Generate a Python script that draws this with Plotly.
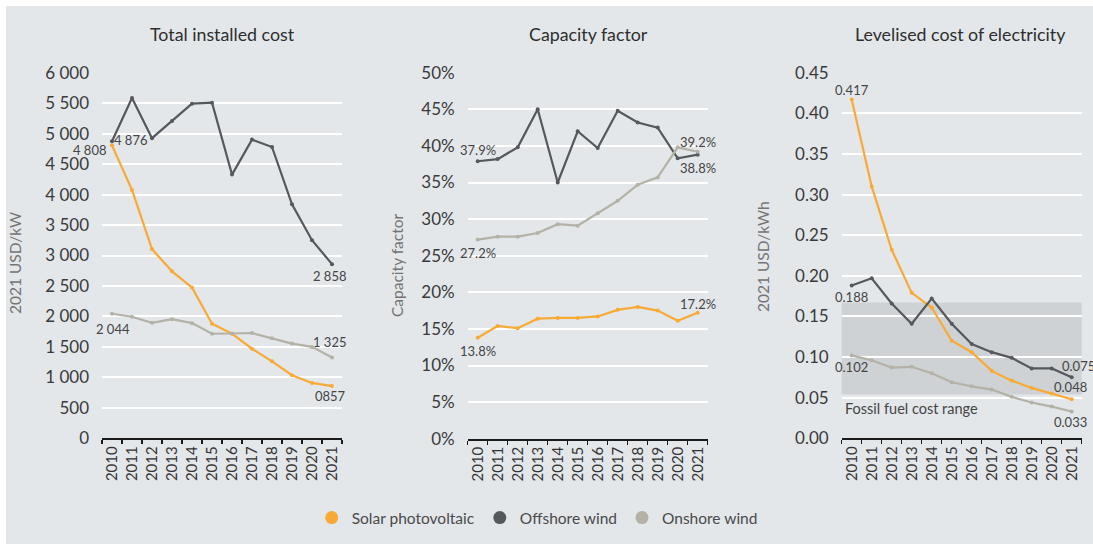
import plotly.graph_objects as go

years = [str(y) for y in range(2010, 2022)]

# Total installed cost (2021 USD/kW)
tic_solar = [4808, 4075, 3105, 2740, 2475, 1880, 1716, 1470, 1263, 1036, 909, 857]
tic_offshore = [4876, 5585, 4925, 5208, 5492, 5508, 4328, 4902, 4781, 3841, 3251, 2858]
tic_onshore = [2044, 1995, 1895, 1955, 1890, 1716, 1720, 1728, 1640, 1555, 1500, 1325]

# Capacity factor (%)
cf_solar = [13.8, 15.4, 15.1, 16.4, 16.5, 16.5, 16.7, 17.6, 18.0, 17.5, 16.1, 17.2]
cf_offshore = [37.9, 38.2, 39.8, 45.0, 35.0, 42.0, 39.7, 44.8, 43.2, 42.5, 38.3, 38.8]
cf_onshore = [27.2, 27.6, 27.6, 28.1, 29.3, 29.1, 30.8, 32.5, 34.7, 35.7, 39.8, 39.2]

# LCOE (2021 USD/kWh)
lcoe_solar = [0.417, 0.310, 0.232, 0.179, 0.161, 0.120, 0.106, 0.083, 0.071, 0.062, 0.055, 0.048]
lcoe_offshore = [0.188, 0.197, 0.166, 0.141, 0.172, 0.141, 0.116, 0.106, 0.099, 0.086, 0.086, 0.075]
lcoe_onshore = [0.102, 0.096, 0.087, 0.088, 0.080, 0.069, 0.064, 0.060, 0.051, 0.044, 0.039, 0.033]

fossil_range = [0.054, 0.167]

series_names = ["Solar photovoltaic", "Offshore wind", "Onshore wind"]
colors = ["#F8AA35", "#55585C", "#B4B2A7"]
panel_titles = ["Total installed cost", "Capacity factor", "Levelised cost of electricity"]
y_titles = ["2021 USD/kW", "Capacity factor", "2021 USD/kWh"]

W, H = 1093, 544
BG = "#E3E7EA"
FONT = "Lato"
TXT = "#3A3A3A"


def px(x):
    return x / W


def py(y):
    return 1 - y / H


fig = go.Figure()

panels = [
    (tic_solar, tic_offshore, tic_onshore),
    (cf_solar, cf_offshore, cf_onshore),
    (lcoe_solar, lcoe_offshore, lcoe_onshore),
]
for i, data in enumerate(panels):
    ax = "" if i == 0 else str(i + 1)
    for name, vals, col in zip(series_names, data, colors):
        fig.add_trace(go.Scatter(
            x=years, y=vals, mode="lines+markers", name=name,
            line=dict(color=col, width=2.2), marker=dict(color=col, size=4),
            showlegend=False, xaxis="x" + ax, yaxis="y" + ax,
            hoverinfo="skip",
        ))

# legend-only traces (round markers)
for name, col in zip(series_names, colors):
    fig.add_trace(go.Scatter(x=[None], y=[None], mode="markers", name=name,
                             marker=dict(color=col, size=13), showlegend=True,
                             xaxis="x", yaxis="y"))

x_domains = [(102, 342), (467.7, 707.7), (841.7, 1081.7)]
y_domains = [(438.3, 72.7), (438.7, 72.7), (438.3, 72.7)]
y_ranges = [[0, 6000], [0, 50], [0, 0.45]]
y_dticks = [500, 5, 0.05]
y_formats = [",d", "d", ".2f"]
y_suffix = ["", "%", ""]

layout = dict(
    width=W, height=H, autosize=False,
    margin=dict(l=0, r=0, t=0, b=0, pad=0, autoexpand=False),
    paper_bgcolor="white",
    plot_bgcolor=BG,
    separators=". ",
    font=dict(family=FONT, color=TXT),
    showlegend=True,
    legend=dict(orientation="h", x=0.4915, xanchor="center", y=py(518), yanchor="middle",
                font=dict(size=15.5, color="#4A4A4A", family=FONT), bgcolor="rgba(0,0,0,0)",
                itemclick=False, tracegroupgap=0),
)
for i in range(3):
    ax = "" if i == 0 else str(i + 1)
    layout["xaxis" + ax] = dict(
        domain=[px(x_domains[i][0]), px(x_domains[i][1])],
        anchor="y" + ax, type="category", range=[-0.5, 11.5],
        showgrid=False, showline=True, linecolor="#1A1A1A", linewidth=2,
        ticks="outside", ticklen=4, tickcolor="#1A1A1A", tickwidth=1.5,
        tickson="boundaries", tickangle=-90, automargin=False,
        tickfont=dict(size=15, color="#333333", family=FONT),
        fixedrange=True,
    )
    layout["yaxis" + ax] = dict(
        domain=[py(y_domains[i][0]), py(y_domains[i][1])],
        anchor="x" + ax, range=y_ranges[i], dtick=y_dticks[i], tick0=0,
        tickformat=y_formats[i], ticksuffix=y_suffix[i],
        showgrid=True, gridcolor="white", gridwidth=2,
        zeroline=False, showline=False, ticks="", automargin=False,
        ticklabelstandoff=12,
        tickfont=dict(size=17, color="#3A3A3A", family=FONT),
        fixedrange=True,
    )
fig.update_layout(**layout)

# gray backdrop with thin white border at top/left
fig.add_shape(type="rect", xref="paper", yref="paper", x0=px(6), x1=1, y0=0, y1=py(6),
              fillcolor=BG, line=dict(width=0), layer="below")

# fossil fuel cost range band
fig.add_shape(type="rect", xref="x3 domain", yref="y3", x0=0, x1=1,
              y0=fossil_range[0], y1=fossil_range[1],
              fillcolor="#CFD2D5", line=dict(width=0), layer="below")

annotations = []
title_x = [222, 588, 961]
for t, xc in zip(panel_titles, title_x):
    annotations.append(dict(text=t, xref="paper", yref="paper", x=px(xc), y=py(34),
                            showarrow=False, xanchor="center", yanchor="middle",
                            font=dict(size=17.8, color="#2E2E2E", family=FONT)))
ytitle_x = [15, 397, 763]
ytitle_y = [263, 265, 257]
for t, xc, yc in zip(y_titles, ytitle_x, ytitle_y):
    annotations.append(dict(text=t, xref="paper", yref="paper", x=px(xc), y=py(yc),
                            showarrow=False, textangle=-90, xanchor="center", yanchor="middle",
                            font=dict(size=15.5, color="#747474", family=FONT)))

LBL = dict(size=13, color="#444444", family=FONT)


def lab(ax, idx, y, text, xanchor="center", xshift=0, yshift=0):
    annotations.append(dict(text=text, xref="x" + ax, yref="y" + ax, x=idx, y=y,
                            showarrow=False, xanchor=xanchor, yanchor="middle",
                            xshift=xshift, yshift=yshift, font=LBL, borderpad=0))


def num(v):
    return f"{v:,d}".replace(",", " ")


first, last = 0, len(years) - 1

# panel 1 labels
lab("", first, tic_solar[0], num(tic_solar[0]), "right", xshift=-4, yshift=-5)
lab("", first, tic_offshore[0], num(tic_offshore[0]), "left", xshift=1, yshift=1)
lab("", last, tic_offshore[-1], num(tic_offshore[-1]), "center", xshift=-2, yshift=-12)
lab("", first, tic_onshore[0], num(tic_onshore[0]), "center", xshift=1, yshift=-15)
lab("", last, tic_onshore[-1], num(tic_onshore[-1]), "center", xshift=-2, yshift=16)
lab("", last, tic_solar[-1], "0" + str(tic_solar[-1]), "center", xshift=-2, yshift=-10)

# panel 2 labels
lab("2", first, cf_offshore[0], f"{cf_offshore[0]:.1f}%", "center", yshift=11)
lab("2", first, cf_onshore[0], f"{cf_onshore[0]:.1f}%", "center", yshift=-13)
lab("2", last, cf_onshore[-1], f"{cf_onshore[-1]:.1f}%", "center", yshift=10)
lab("2", last, cf_offshore[-1], f"{cf_offshore[-1]:.1f}%", "center", yshift=-13)
lab("2", first, cf_solar[0], f"{cf_solar[0]:.1f}%", "center", yshift=-13)
lab("2", last, cf_solar[-1], f"{cf_solar[-1]:.1f}%", "center", yshift=9)

# panel 3 labels
lab("3", first, lcoe_solar[0], f"{lcoe_solar[0]:.3f}", "center", yshift=10)
lab("3", first, lcoe_offshore[0], f"{lcoe_offshore[0]:.3f}", "center", yshift=-11)
lab("3", first, lcoe_onshore[0], f"{lcoe_onshore[0]:.3f}", "center", yshift=-12)
lab("3", last, lcoe_offshore[-1], f"{lcoe_offshore[-1]:.3f}", "center", xshift=7, yshift=11)
lab("3", last, lcoe_solar[-1], f"{lcoe_solar[-1]:.3f}", "center", xshift=-1, yshift=12)
lab("3", last, lcoe_onshore[-1], f"{lcoe_onshore[-1]:.3f}", "center", xshift=-1, yshift=-11)

annotations.append(dict(text="Fossil fuel cost range", xref="paper", yref="paper",
                        x=px(843), y=py(408), showarrow=False, xanchor="left", yanchor="middle",
                        font=dict(size=14.5, color="#444444", family=FONT)))

fig.update_layout(annotations=annotations)

fig.write_html("out.html", include_plotlyjs=True, full_html=True,
               config={"displayModeBar": False, "staticPlot": True},
               post_script="document.body.style.margin='0';document.body.style.padding='0';")
